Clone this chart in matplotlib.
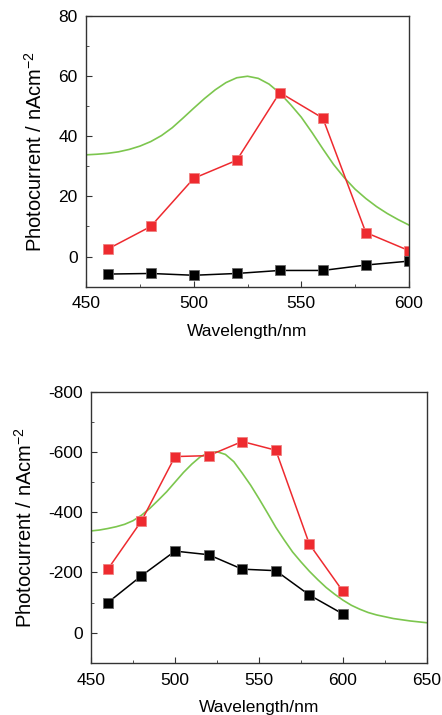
import matplotlib
matplotlib.use("Agg")
import matplotlib.pyplot as plt
from matplotlib.ticker import MultipleLocator

plt.rcParams['font.family'] = ['Liberation Sans', 'DejaVu Sans']
plt.rcParams['axes.unicode_minus'] = False
plt.rcParams['mathtext.fontset'] = 'custom'
plt.rcParams['mathtext.rm'] = 'Liberation Sans'
plt.rcParams['mathtext.it'] = 'Liberation Sans'

# ---- Top panel data ----
wl_pts = [460, 480, 500, 520, 540, 560, 580, 600]
top_red = [2.5, 10, 26, 32, 54.5, 46, 8, 2]
top_black = [-5.8, -5.6, -6.2, -5.6, -4.6, -4.6, -2.8, -1.5]
top_green_wl = [450, 455, 460, 465, 470, 475, 480, 485, 490, 495, 500, 505, 510,
                515, 520, 525, 530, 535, 540, 545, 550, 555, 560, 565, 570, 575,
                580, 585, 590, 595, 600]
top_green = [33.8, 34.0, 34.3, 34.8, 35.6, 36.7, 38.2, 40.2, 42.8, 46.0, 49.3,
             52.5, 55.4, 57.8, 59.4, 59.9, 59.2, 57.3, 54.3, 50.5, 46.3, 41.2,
             35.8, 30.6, 26.2, 22.4, 19.3, 16.6, 14.3, 12.3, 10.5]

# ---- Bottom panel data ----
bot_red = [-211, -371, -585, -588, -635, -606, -294, -137]
bot_black = [-100, -189, -271, -259, -211, -206, -125, -62]
bot_green_wl = [450, 455, 460, 465, 470, 475, 480, 485, 490, 495, 500, 505, 510,
                515, 520, 525, 530, 535, 540, 545, 550, 555, 560, 565, 570, 575,
                580, 585, 590, 595, 600, 605, 610, 615, 620, 625, 630, 635, 640,
                645, 650]
bot_green = [-338, -341, -346, -352, -360, -372, -390, -413, -440, -468, -500,
             -532, -560, -584, -598, -601, -592, -568, -530, -490, -445, -398,
             -350, -308, -268, -235, -204, -176, -150, -128, -108, -91, -78,
             -67, -59, -53, -47, -43, -39, -36, -33]

RED = '#ee2a2f'
GREEN = '#7cc64e'
ylabel = 'Photocurrent / nAcm$^{-2}$'

fig = plt.figure(figsize=(4.42, 7.15), dpi=100)
ax1 = fig.add_axes([0.195, 0.599, 0.730, 0.379])
ax2 = fig.add_axes([0.206, 0.073, 0.760, 0.379])


def style(ax):
    for s in ax.spines.values():
        s.set_color('#333333')
        s.set_linewidth(1.0)
    ax.tick_params(which='both', direction='in', top=False, right=False,
                   labelsize=12.5, color='#333333')
    ax.tick_params(which='major', length=4)
    ax.tick_params(which='minor', length=2.5)
    ax.tick_params(axis='x', which='major', pad=7)
    ax.tick_params(axis='y', which='major', pad=6)
    ax.set_xlabel('Wavelength/nm', fontsize=12.5, labelpad=9)
    ax.set_ylabel(ylabel, fontsize=14.5, labelpad=9)


mk = dict(marker='s', markersize=6.5, linewidth=1.1, markeredgewidth=0.6)

# Top
ax1.plot(top_green_wl, top_green, color=GREEN, linewidth=1.2)
ax1.plot(wl_pts, top_red, color=RED, markerfacecolor=RED,
         markeredgecolor='#f08080', **mk)
ax1.plot(wl_pts, top_black, color='black', markerfacecolor='black',
         markeredgecolor='#666666', **mk)
ax1.set_xlim(450, 600)
ax1.set_ylim(-10, 80)
ax1.xaxis.set_major_locator(MultipleLocator(50))
ax1.xaxis.set_minor_locator(MultipleLocator(25))
ax1.yaxis.set_major_locator(MultipleLocator(20))
ax1.yaxis.set_minor_locator(MultipleLocator(10))
style(ax1)

# Bottom
ax2.plot(bot_green_wl, bot_green, color=GREEN, linewidth=1.2)
ax2.plot(wl_pts, bot_red, color=RED, markerfacecolor=RED,
         markeredgecolor='#f08080', **mk)
ax2.plot(wl_pts, bot_black, color='black', markerfacecolor='black',
         markeredgecolor='#666666', **mk)
ax2.set_xlim(450, 650)
ax2.set_ylim(100, -800)
ax2.xaxis.set_major_locator(MultipleLocator(50))
ax2.xaxis.set_minor_locator(MultipleLocator(25))
ax2.yaxis.set_major_locator(MultipleLocator(200))
ax2.yaxis.set_minor_locator(MultipleLocator(100))
style(ax2)

fig.savefig('out.png', dpi=100)
